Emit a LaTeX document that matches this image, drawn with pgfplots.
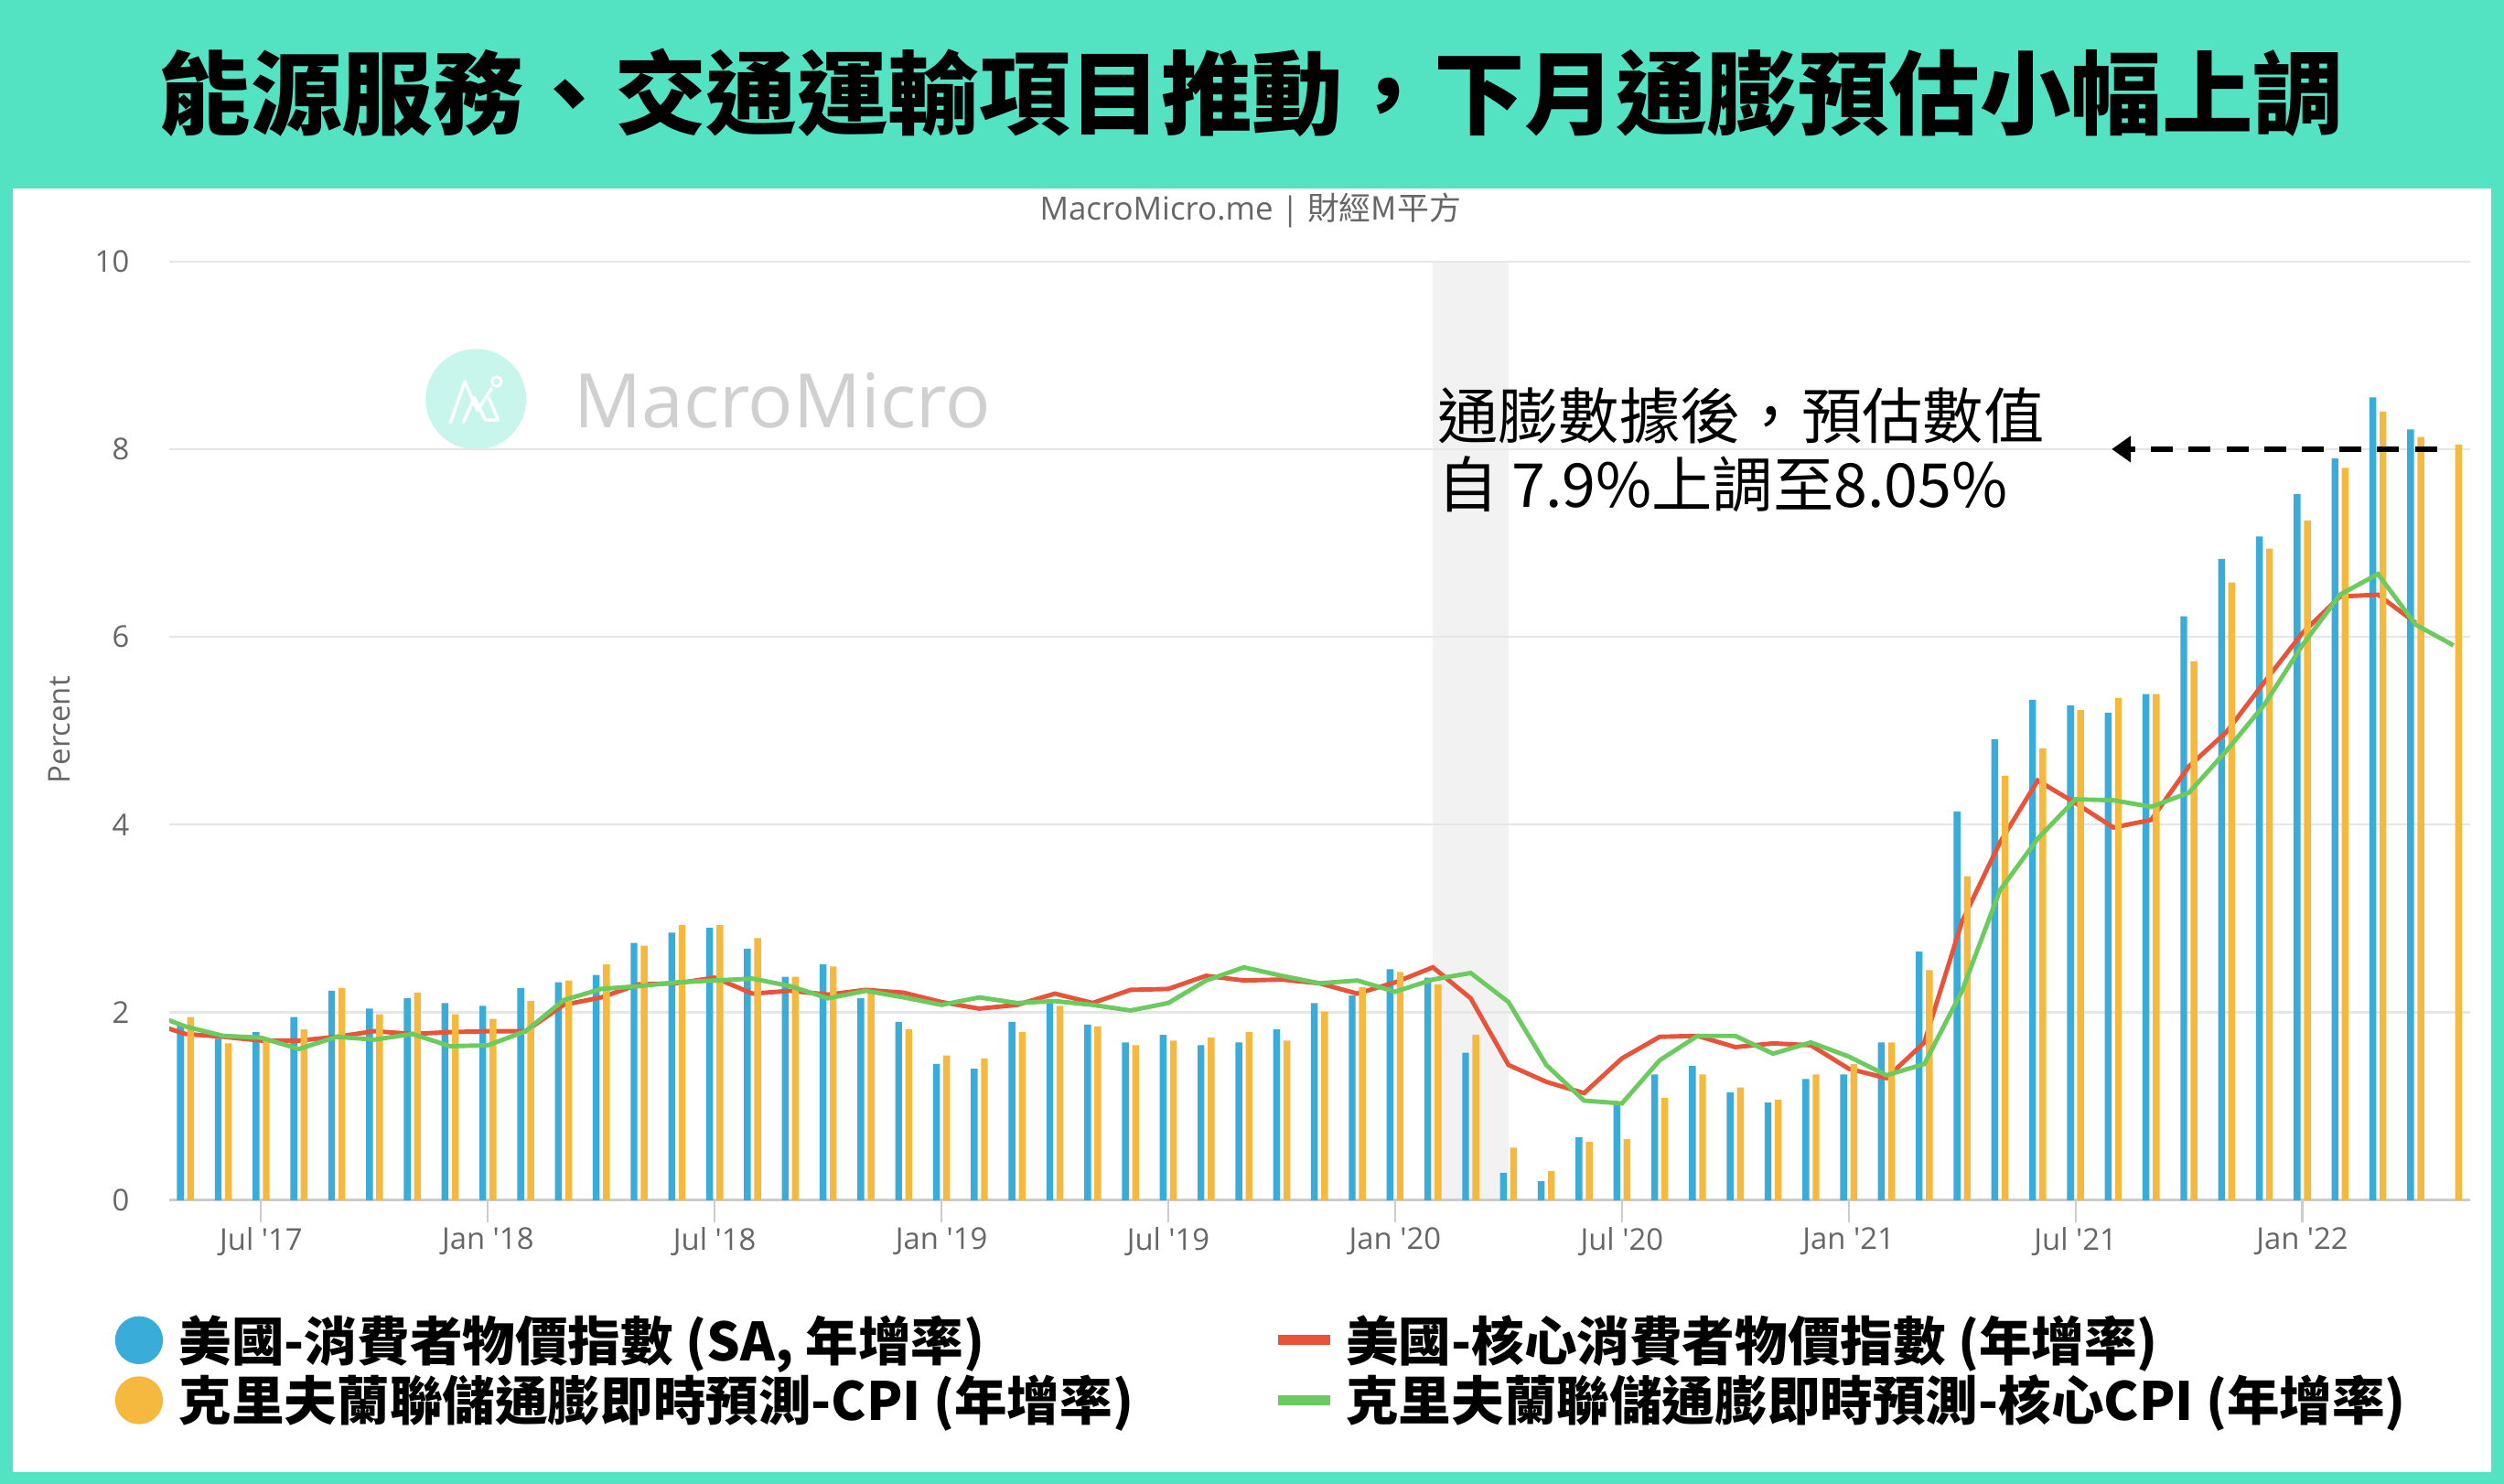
\documentclass[border=0pt]{standalone}
\usepackage{pgfplots}
\pgfplotsset{compat=1.18}
\usepackage{pgfplotstable}
\usepackage{fontspec}
\setmainfont{Open Sans}
\newfontfamily\cjk{Noto Sans CJK TC}
\usetikzlibrary{arrows.meta}

\definecolor{bgteal}{HTML}{53E3C3}
\definecolor{cblue}{HTML}{3AACD9}
\definecolor{corange}{HTML}{F6B93F}
\definecolor{cred}{HTML}{E8543A}
\definecolor{cgreen}{HTML}{6CCB5F}
\definecolor{cshade}{HTML}{F2F2F2}
\definecolor{cgrid}{HTML}{E6E6E6}
\definecolor{caxis}{HTML}{CCCCCC}
\definecolor{ctext}{HTML}{666666}
\definecolor{wmcircle}{HTML}{C9F6EC}
\definecolor{wmtext}{HTML}{D0D0D0}

% month index: Jan 2017 = 0
\pgfplotstableread{
m  v
4  1.87
5  1.72
6  1.79
7  1.95
8  2.23
9  2.04
10 2.15
11 2.10
12 2.07
13 2.26
14 2.32
15 2.40
16 2.74
17 2.85
18 2.90
19 2.68
20 2.38
21 2.51
22 2.15
23 1.90
24 1.45
25 1.40
26 1.90
27 2.12
28 1.87
29 1.68
30 1.76
31 1.65
32 1.68
33 1.82
34 2.10
35 2.18
36 2.46
37 2.37
38 1.57
39 0.29
40 0.20
41 0.67
42 1.02
43 1.34
44 1.43
45 1.15
46 1.04
47 1.29
48 1.34
49 1.68
50 2.65
51 4.14
52 4.91
53 5.33
54 5.27
55 5.19
56 5.39
57 6.22
58 6.83
59 7.07
60 7.52
61 7.90
62 8.55
63 8.21
}\cpi

\pgfplotstableread{
m  v
4  1.95
5  1.67
6  1.70
7  1.82
8  2.26
9  1.98
10 2.21
11 1.98
12 1.93
13 2.12
14 2.34
15 2.51
16 2.71
17 2.93
18 2.93
19 2.79
20 2.38
21 2.49
22 2.21
23 1.82
24 1.54
25 1.51
26 1.79
27 2.07
28 1.85
29 1.65
30 1.70
31 1.73
32 1.79
33 1.70
34 2.01
35 2.27
36 2.43
37 2.30
38 1.76
39 0.56
40 0.31
41 0.62
42 0.65
43 1.09
44 1.34
45 1.20
46 1.07
47 1.34
48 1.45
49 1.68
50 2.45
51 3.45
52 4.52
53 4.81
54 5.22
55 5.35
56 5.39
57 5.74
58 6.58
59 6.94
60 7.24
61 7.80
62 8.40
63 8.13
64 8.05
}\nowcpi

\pgfplotstableread{
m  v
3  1.90
4  1.77
5  1.74
6  1.70
7  1.70
8  1.74
9  1.80
10 1.77
11 1.79
12 1.80
13 1.80
14 2.08
15 2.16
16 2.30
17 2.31
18 2.37
19 2.20
20 2.23
21 2.19
22 2.24
23 2.21
24 2.11
25 2.04
26 2.08
27 2.20
28 2.10
29 2.24
30 2.25
31 2.39
32 2.34
33 2.35
34 2.31
35 2.20
36 2.32
37 2.48
38 2.15
39 1.44
40 1.26
41 1.14
42 1.51
43 1.74
44 1.75
45 1.63
46 1.67
47 1.65
48 1.40
49 1.30
50 1.68
51 2.97
52 3.81
53 4.47
54 4.23
55 3.97
56 4.05
57 4.62
58 4.99
59 5.52
60 6.04
61 6.43
62 6.45
63 6.15
}\core

\pgfplotstableread{
m  v
3  2.00
4  1.85
5  1.75
6  1.73
7  1.61
8  1.74
9  1.71
10 1.77
11 1.64
12 1.65
13 1.80
14 2.13
15 2.25
16 2.28
17 2.32
18 2.34
19 2.36
20 2.28
21 2.15
22 2.23
23 2.16
24 2.08
25 2.16
26 2.10
27 2.12
28 2.08
29 2.02
30 2.10
31 2.34
32 2.48
33 2.39
34 2.31
35 2.34
36 2.22
37 2.35
38 2.42
39 2.11
40 1.44
41 1.06
42 1.03
43 1.49
44 1.75
45 1.75
46 1.56
47 1.68
48 1.53
49 1.33
50 1.45
51 2.23
52 3.30
53 3.85
54 4.27
55 4.26
56 4.19
57 4.34
58 4.79
59 5.28
60 5.91
61 6.45
62 6.67
63 6.13
64 5.91
}\nowcore

\begin{document}
\begin{tikzpicture}
\useasboundingbox (0,0) rectangle (784pt,464.5pt);
\fill[bgteal] (0,0) rectangle (784pt,464.5pt);
\fill[white] (4pt,3.5pt) rectangle (780pt,405.5pt);

% title and source
\node[font=\cjk\bfseries\fontsize{28.5}{32}\selectfont] at (392pt,435.5pt)
  {能源服務、交通運輸項目推動，下月通膨預估小幅上調};
\node[font=\fontsize{10}{12}\selectfont, text=ctext] at (391.5pt,398.5pt)
  {MacroMicro.me | {\cjk 財經M平方}};

% watermark
\fill[wmcircle] (149pt,339.5pt) circle (15.75pt);
\draw[white, line width=1pt, line join=round]
  (141pt,332pt) -- (145.5pt,345pt) -- (149.5pt,336pt) -- (154pt,343pt);
\draw[white, line width=1pt, line join=round]
  (145pt,332pt) -- (148.5pt,340pt) -- (152pt,333pt) -- (156pt,333pt) -- (153pt,340pt);
\draw[white, line width=0.8pt] (155.5pt,345pt) circle (1.5pt);
\node[anchor=west, inner sep=0pt, text=wmtext, font=\fontsize{23.5}{26}\selectfont]
  at (179.5pt,339.2pt) {MacroMicro};

\node[rotate=90, font=\fontsize{9.4}{11}\selectfont, text=ctext] at (18.5pt,236pt) {Percent};

% recession band (Feb-Apr 2020)
\fill[cshade] (448.6pt,88.75pt) rectangle (472.3pt,382.65pt);

\begin{axis}[
  at={(53pt,88.75pt)}, anchor=south west,
  width=720.5pt, height=293.9pt, scale only axis,
  xmin=3.57, xmax=64.45, ymin=0, ymax=10,
  axis x line*=bottom, axis y line*=left,
  x axis line style={draw=caxis, line width=0.8pt},
  y axis line style={draw=none},
  xtick={6,12,...,60},
  xticklabels={Jul \textquotesingle17, Jan \textquotesingle18, Jul \textquotesingle18,
    Jan \textquotesingle19, Jul \textquotesingle19, Jan \textquotesingle20,
    Jul \textquotesingle20, Jan \textquotesingle21, Jul \textquotesingle21,
    Jan \textquotesingle22},
  ytick={0,2,...,10},
  tick align=outside,
  xtick style={draw=caxis, line width=0.6pt},
  ytick style={draw=none},
  major tick length=7pt,
  ymajorgrids, grid style={draw=cgrid, line width=0.6pt},
  tick label style={font=\fontsize{9.4}{11}\selectfont, text=ctext,
    /pgf/number format/assume math mode=true},
  yticklabel style={xshift=-2pt},
  xticklabel style={yshift=2pt},
  legend columns=2,
  legend cell align=left,
  legend style={at={(-0.028,-0.108)}, anchor=north west, draw=none, fill=none,
    font=\cjk\bfseries\fontsize{16.5}{19}\selectfont, row sep=-1pt,
    /tikz/every even column/.append style={column sep=0pt}},
]
\addplot[ybar, bar width=0.18, bar shift=-0.135, fill=cblue, draw=none,
  legend image code/.code={\fill[cblue] (7.5pt,0pt) circle (7.5pt); \path (18pt,0pt);}]
  table[x=m, y=v] {\cpi};
\addlegendentry{\makebox[342pt][l]{美國-消費者物價指數 (SA, 年增率)}}
\addplot[cred, line width=1.4pt,
  legend image code/.code={\fill[cred] (0pt,-0.85pt) rectangle (15pt,0.85pt); \path (18pt,0pt);}]
  table[x=m, y=v] {\core};
\addlegendentry{美國-核心消費者物價指數 (年增率)}
\addplot[ybar, bar width=0.18, bar shift=0.135, fill=corange, draw=none,
  legend image code/.code={\fill[corange] (7.5pt,0pt) circle (7.5pt); \path (18pt,0pt);}]
  table[x=m, y=v] {\nowcpi};
\addlegendentry{\makebox[342pt][l]{克里夫蘭聯儲通膨即時預測-CPI (年增率)}}
\addplot[cgreen, line width=1.4pt,
  legend image code/.code={\fill[cgreen] (0pt,-0.85pt) rectangle (15pt,0.85pt); \path (18pt,0pt);}]
  table[x=m, y=v] {\nowcore};
\addlegendentry{克里夫蘭聯儲通膨即時預測-核心CPI (年增率)}

\node[anchor=west, align=left, inner sep=0pt, font=\cjk\fontsize{19}{21.5}\selectfont]
  at (axis cs:37.1,7.99) {通膨數據後，預估數值\\自 7.9\%上調至8.05\%};
\draw[line width=1.5pt, dash pattern=on 6.9pt off 4.9pt, -{Triangle[length=6pt,width=8pt]}]
  (axis cs:63.56,8) -- (axis cs:54.96,8);
\end{axis}
\end{tikzpicture}
\end{document}
